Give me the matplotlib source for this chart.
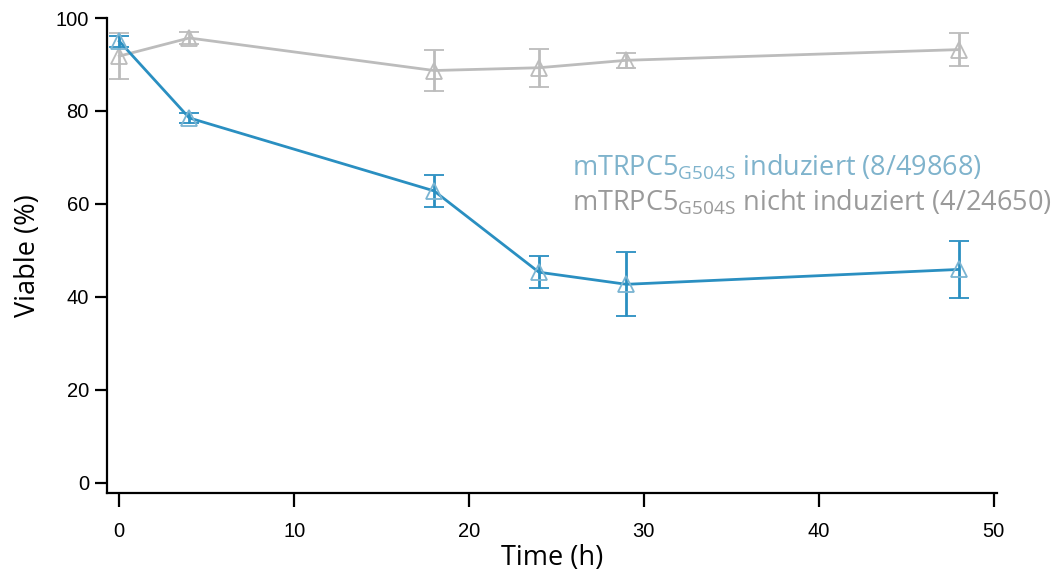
import matplotlib
matplotlib.use("Agg")
import matplotlib.pyplot as plt
from matplotlib import font_manager

time_h = [0, 4, 18, 24, 29, 48]
induced = [95.0, 78.5, 62.8, 45.3, 42.7, 45.9]
induced_err = [1.2, 1.0, 3.4, 3.4, 6.9, 6.2]
non_induced = [91.8, 95.7, 88.7, 89.3, 90.9, 93.2]
non_induced_err = [5.0, 1.3, 4.4, 4.1, 1.6, 3.6]
x_ticks = [0, 10, 20, 30, 40, 50]
y_ticks = [0, 20, 40, 60, 80, 100]
label_induced = r'mTRPC5$_{\mathregular{G504S}}$ induziert (8/49868)'
label_non = r'mTRPC5$_{\mathregular{G504S}}$ nicht induziert (4/24650)'

names = {f.name for f in font_manager.fontManager.ttflist}
tick_font = 'Liberation Sans Narrow' if 'Liberation Sans Narrow' in names else 'Liberation Sans'
text_font = ['Open Sans', 'DejaVu Sans']

blue = '#2a8fc1'
gray = '#bcbcbc'

fig = plt.figure(figsize=(10.63, 5.77), dpi=100)
ax = fig.add_axes([0.1007, 0.1456, 0.8373, 0.8232])

ax.errorbar(time_h, non_induced, yerr=non_induced_err, color=gray, lw=2,
            marker='^', ms=11, mfc='none', mec=gray, mew=1.3,
            capsize=7, capthick=2, elinewidth=2, zorder=2)
ax.errorbar(time_h, induced, yerr=induced_err, color=blue, lw=2,
            marker='^', ms=11, mfc='none', mec='#7ab4d2', mew=1.3,
            capsize=7, capthick=2, elinewidth=2, zorder=3)

ax.set_xlim(-0.7, 50.2)
ax.set_ylim(-2.2, 100)
ax.set_xticks(x_ticks)
ax.set_yticks(y_ticks)
ax.spines['top'].set_visible(False)
ax.spines['right'].set_visible(False)
for s in ['left', 'bottom']:
    ax.spines[s].set_linewidth(1.6)
ax.tick_params(axis='x', length=10, width=1.6, labelsize=14.5, pad=11)
ax.tick_params(axis='y', length=9, width=1.6, labelsize=14.5, pad=4)
for lab in ax.get_xticklabels() + ax.get_yticklabels():
    lab.set_fontfamily(tick_font)

ax.set_xlabel('Time (h)', fontsize=19.5, family=text_font, labelpad=2)
ax.set_ylabel('Viable (%)', fontsize=19.5, family=text_font, labelpad=10)

fig.text(0.538, 0.695, label_induced, color='#7fb3cc', fontsize=19.5, family=text_font)
fig.text(0.538, 0.635, label_non, color='#9a9a9a', fontsize=19.5, family=text_font)

fig.savefig('out.png', dpi=100)
